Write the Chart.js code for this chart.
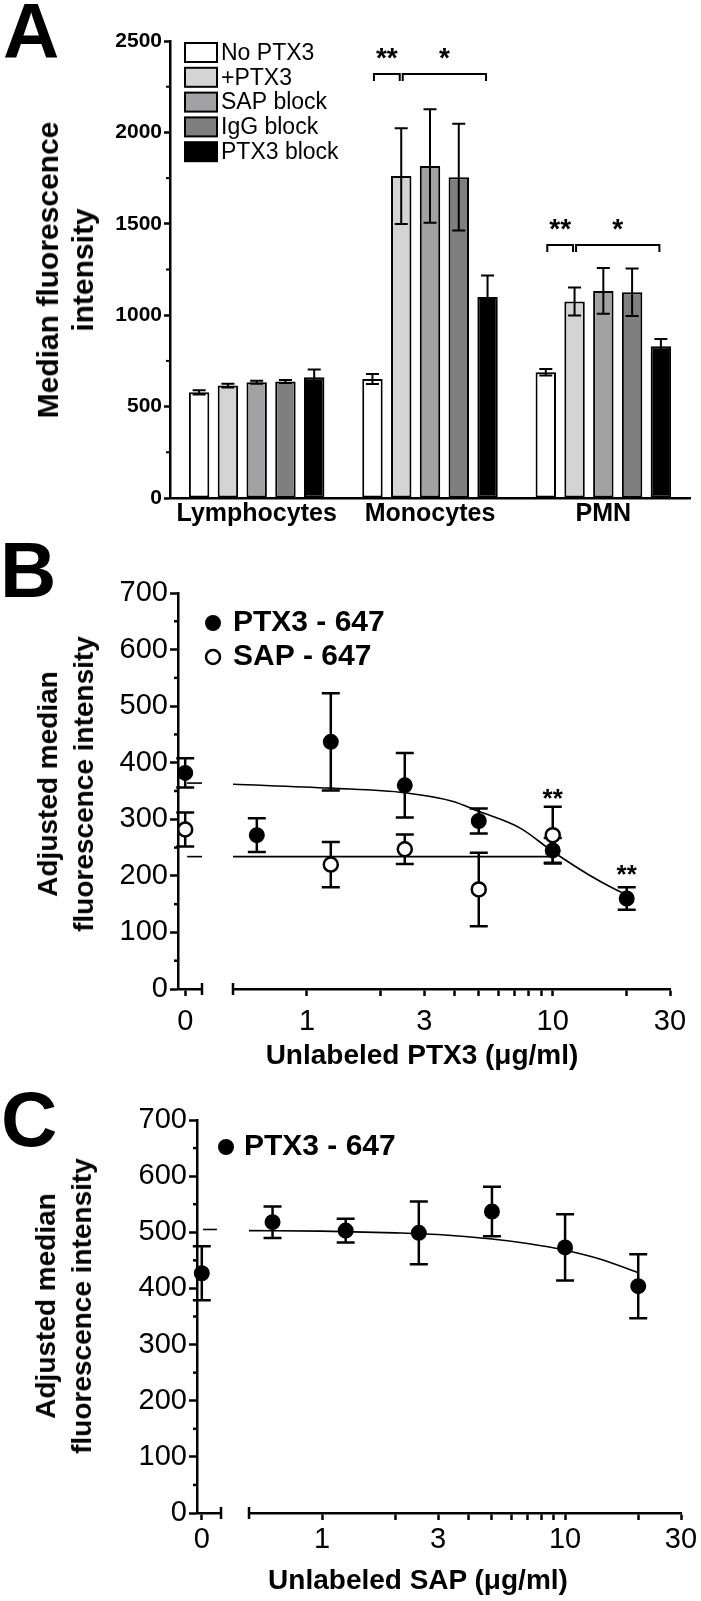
<!DOCTYPE html>
<html lang="en">
<head>
<meta charset="utf-8">
<title>PTX3 binding</title>
<script src="https://cdn.jsdelivr.net/npm/chart.js@4.4.1/dist/chart.umd.min.js"></script>
<style>
  html, body { margin: 0; padding: 0; background: #fff; }
  #page { position: relative; width: 701px; height: 1601px; overflow: hidden; background: #fff;
          font-family: "Liberation Sans", Arial, sans-serif; color: #000; }
  #page canvas { position: absolute; left: 0; }
  .panel { position: absolute; font-weight: bold; font-size: 78px; line-height: 1; }
  .ytitle { position: absolute; font-weight: bold; text-align: center; white-space: nowrap;
            transform: translate(-50%, -50%) rotate(-90deg); }
  .xtitle { position: absolute; font-weight: bold; white-space: nowrap; transform: translate(-50%, -50%); }
</style>
</head>
<body>
<div id="page">
  <canvas id="chartA" width="701" height="540" style="top:0"></canvas>
  <canvas id="chartB" width="701" height="540" style="top:540px"></canvas>
  <canvas id="chartC" width="701" height="521" style="top:1080px"></canvas>

  <div class="panel" style="left:3px;top:-8px">A</div>
  <div class="panel" style="left:0px;top:531px">B</div>
  <div class="panel" style="left:1px;top:1080px">C</div>

  <div class="ytitle" style="left:65px;top:270px;font-size:30px;line-height:35px">Median fluorescence<br>intensity</div>
  <div class="ytitle" style="left:66px;top:784px;font-size:28px;line-height:36px">Adjusted median<br>fluorescence intensity</div>
  <div class="ytitle" style="left:64px;top:1306px;font-size:28px;line-height:36px">Adjusted median<br>fluorescence intensity</div>
  <div class="xtitle" style="left:422px;top:1055px;font-size:28px">Unlabeled PTX3 (μg/ml)</div>
  <div class="xtitle" style="left:418px;top:1580px;font-size:28px">Unlabeled SAP (μg/ml)</div>
</div>

<script>
const FONT = '"Liberation Sans", Arial, sans-serif';
Chart.defaults.font.family = FONT;
Chart.defaults.color = '#000';

// ---- panel A: median fluorescence by cell type ----
const cellTypes = ['Lymphocytes', 'Monocytes', 'PMN'];
const mfiNoPtx3 = [578, 651, 688];
const mfiPlusPtx3 = [615, 1761, 1075];
const mfiSapBlock = [633, 1816, 1133];
const mfiIggBlock = [637, 1755, 1126];
const mfiPtx3Block = [660, 1099, 830];
const semNoPtx3 = [12, 28, 18];
const semPlusPtx3 = [10, 262, 77];
const semSapBlock = [8, 310, 125];
const semIggBlock = [8, 292, 130];
const semPtx3Block = [43, 118, 40];
const mfiMinorTicks = [250, 750, 1250, 1750, 2250];

// significance brackets (category, from bar, to bar, level, label)
const sigCategory = [1, 1, 2, 2];
const sigFrom = [0, 1, 0, 1];
const sigTo = [1, 4, 1, 4];
const sigLevel = [2320, 2320, 1384, 1384];
const sigText = ['**', '*', '**', '*'];

// ---- panel B: competition with unlabeled PTX3 ----
const zeroConc = [0];
const ptx3ConcB = [0.625, 1.25, 2.5, 5, 10, 20];
const ptx3MfiB = [272, 437, 360, 297, 245, 160];
const ptx3SemB = [30, 86, 57, 22, 22, 20];
const ptx3ZeroB = [382];
const ptx3ZeroSemB = [26];
const sapConcB = [1.25, 2.5, 5, 10];
const sapMfiB = [220, 247, 176, 272];
const sapSemB = [40, 26, 65, 50];
const sapZeroB = [282];
const sapZeroSemB = [30];
const ptx3FitXB = [0.5, 1.25, 2.5, 3.9, 5, 7.4, 10, 14, 18, 20];
const ptx3FitYB = [362, 355, 347, 332, 314, 284, 243, 202, 176, 167];
const sapFitXB = [0.5, 10];
const sapFitYB = [234, 234];
const fitZeroXB = [0.08, 0.7];
const ptx3FitZeroB = [364, 364];
const sapFitZeroB = [234, 234];
const starXB = [10, 20];
const starYB = [345, 210];

// ---- panel C: competition with unlabeled SAP ----
const ptx3ConcC = [0.625, 1.25, 2.5, 5, 10, 20];
const ptx3MfiC = [518, 503, 499, 537, 473, 404];
const ptx3SemC = [28, 21, 56, 44, 59, 57];
const ptx3ZeroC = [427];
const ptx3ZeroSemC = [48];
const fitXC = [0.5, 1, 2, 3, 5, 7, 10, 14, 20];
const fitYC = [503, 502, 499, 496, 488, 480, 468, 452, 428];
const fitZeroXC = [0.05, 0.63];
const fitZeroYC = [505, 505];

// shared axis ticks
const logTickValues = [1, 2, 3, 4, 5, 6, 7, 8, 9, 10, 20, 30];
const logTickLabels = [1, 3, 10, 30];
const mfiMinorTicksAdj = [50, 150, 250, 350, 450, 550, 650];

const pts = (xs, ys) => xs.map((x, i) => ({ x: x, y: ys[i] }));

// ---- plugins ----
function drawErrors(chart, o) {
  const ctx = chart.ctx;
  ctx.save();
  ctx.strokeStyle = '#000';
  ctx.lineWidth = o.lineWidth;
  chart.data.datasets.forEach((ds, di) => {
    if (!ds.errors) return;
    const meta = chart.getDatasetMeta(di);
    const ys = chart.scales[meta.yAxisID];
    meta.data.forEach((el, i) => {
      const raw = ds.data[i];
      const v = typeof raw === 'object' ? raw.y : raw;
      const top = ys.getPixelForValue(v + ds.errors[i]);
      const bot = ys.getPixelForValue(v - ds.errors[i]);
      ctx.beginPath();
      ctx.moveTo(el.x, top); ctx.lineTo(el.x, bot);
      ctx.moveTo(el.x - o.cap, top); ctx.lineTo(el.x + o.cap, top);
      ctx.moveTo(el.x - o.cap, bot); ctx.lineTo(el.x + o.cap, bot);
      ctx.stroke();
    });
  });
  ctx.restore();
}

const errorBars = {
  id: 'errorBars',
  beforeDatasetsDraw(chart, args, o) { if (o.under) drawErrors(chart, o); },
  afterDatasetsDraw(chart, args, o) { if (!o.under) drawErrors(chart, o); }
};

const minorTicks = {
  id: 'minorTicks',
  afterDraw(chart, args, o) {
    const s = chart.scales.y, ctx = chart.ctx;
    ctx.save();
    ctx.strokeStyle = '#000';
    ctx.lineWidth = o.width;
    o.values.forEach(v => {
      const py = s.getPixelForValue(v);
      ctx.beginPath();
      ctx.moveTo(s.right - o.length, py);
      ctx.lineTo(s.right, py);
      ctx.stroke();
    });
    ctx.restore();
  }
};

const boxLegend = {
  id: 'boxLegend',
  afterDraw(chart, args, o) {
    const ctx = chart.ctx;
    ctx.save();
    chart.data.datasets.forEach((ds, i) => {
      const cy = o.y + i * o.gap;
      ctx.fillStyle = ds.backgroundColor;
      ctx.fillRect(o.x, cy - o.h / 2, o.w, o.h);
      ctx.lineWidth = 2;
      ctx.strokeStyle = '#000';
      ctx.strokeRect(o.x, cy - o.h / 2, o.w, o.h);
      ctx.fillStyle = '#000';
      ctx.font = o.font;
      ctx.textAlign = 'left';
      ctx.textBaseline = 'middle';
      ctx.fillText(ds.label, o.textX, cy + 1);
    });
    ctx.restore();
  }
};

const sigBrackets = {
  id: 'sigBrackets',
  afterDatasetsDraw(chart, args, o) {
    const ctx = chart.ctx, ys = chart.scales.y;
    ctx.save();
    ctx.strokeStyle = '#000';
    ctx.fillStyle = '#000';
    ctx.lineWidth = 2;
    ctx.font = o.font;
    ctx.textAlign = 'center';
    ctx.textBaseline = 'middle';
    sigCategory.forEach((c, i) => {
      const x1 = chart.getDatasetMeta(sigFrom[i]).data[c].x + 1.5;
      const x2 = chart.getDatasetMeta(sigTo[i]).data[c].x - 1.5;
      const py = ys.getPixelForValue(sigLevel[i]);
      ctx.beginPath();
      ctx.moveTo(x1, py + o.drop); ctx.lineTo(x1, py);
      ctx.lineTo(x2, py); ctx.lineTo(x2, py + o.drop);
      ctx.stroke();
      ctx.fillText(sigText[i], (x1 + x2) / 2, py - o.starGap + o.starShift);
    });
    ctx.restore();
  }
};

const axisBreak = {
  id: 'axisBreak',
  afterDraw(chart, args, o) {
    const ctx = chart.ctx, yb = chart.scales.x0.top;
    ctx.save();
    ctx.strokeStyle = '#000';
    ctx.lineWidth = 2.5;
    [chart.scales.x0.right, chart.scales.xl.left].forEach(px => {
      ctx.beginPath();
      ctx.moveTo(px, yb - o.len);
      ctx.lineTo(px, yb + o.len);
      ctx.stroke();
    });
    ctx.restore();
  }
};

const markerLegend = {
  id: 'markerLegend',
  afterDraw(chart, args, o) {
    const ctx = chart.ctx;
    ctx.save();
    chart.data.datasets.filter(ds => ds.inLegend).forEach((ds, k) => {
      const cy = o.y + k * o.gap;
      ctx.beginPath();
      ctx.arc(o.x, cy, ds.pointRadius, 0, Math.PI * 2);
      ctx.fillStyle = ds.backgroundColor;
      ctx.fill();
      ctx.lineWidth = ds.borderWidth;
      ctx.strokeStyle = '#000';
      ctx.stroke();
      ctx.fillStyle = '#000';
      ctx.font = o.font;
      ctx.textAlign = 'left';
      ctx.textBaseline = 'middle';
      ctx.fillText(ds.label, o.textX, cy);
    });
    ctx.restore();
  }
};

const starMarks = {
  id: 'starMarks',
  afterDatasetsDraw(chart, args, o) {
    if (!o.x) return;
    const ctx = chart.ctx;
    ctx.save();
    ctx.fillStyle = '#000';
    ctx.font = o.font;
    ctx.textAlign = 'center';
    ctx.textBaseline = 'middle';
    o.x.forEach((xv, i) => {
      ctx.fillText('**', chart.scales.xl.getPixelForValue(xv), chart.scales.y.getPixelForValue(o.y[i]) + o.shift);
    });
    ctx.restore();
  }
};

// ---- panel A chart ----
new Chart(document.getElementById('chartA'), {
  type: 'bar',
  data: {
    labels: cellTypes,
    datasets: [
      { label: 'No PTX3', data: mfiNoPtx3, errors: semNoPtx3, backgroundColor: '#ffffff' },
      { label: '+PTX3', data: mfiPlusPtx3, errors: semPlusPtx3, backgroundColor: '#d4d4d4' },
      { label: 'SAP block', data: mfiSapBlock, errors: semSapBlock, backgroundColor: '#a2a2a5' },
      { label: 'IgG block', data: mfiIggBlock, errors: semIggBlock, backgroundColor: '#7f7f7f' },
      { label: 'PTX3 block', data: mfiPtx3Block, errors: semPtx3Block, backgroundColor: '#000000' }
    ]
  },
  options: {
    responsive: false,
    animation: false,
    events: [],
    layout: { padding: { top: 41, right: 11, bottom: 0, left: 0 } },
    datasets: {
      bar: { categoryPercentage: 0.83, barPercentage: 0.71, borderColor: '#000', borderWidth: 2, borderSkipped: false }
    },
    plugins: {
      legend: { display: false },
      tooltip: { enabled: false },
      errorBars: { under: false, lineWidth: 2, cap: 6.5 },
      minorTicks: { values: mfiMinorTicks, length: 4, width: 2 },
      boxLegend: { x: 185, y: 52.5, gap: 24.8, w: 32, h: 19, textX: 221, font: '23px ' + FONT },
      sigBrackets: { drop: 7, starGap: 21, starShift: 6, font: 'bold 28px ' + FONT }
    },
    scales: {
      x: {
        grid: { display: false, drawTicks: false },
        border: { color: '#000', width: 2.5 },
        ticks: { font: { size: 25, weight: 'bold' }, padding: 1 },
        afterFit: s => { s.height = 42; }
      },
      y: {
        min: 0, max: 2500,
        ticks: { stepSize: 500, font: { size: 21, weight: 'bold' }, padding: 2, callback: v => String(v) },
        grid: { drawOnChartArea: false, tickLength: 6, tickWidth: 2.5, tickColor: '#000' },
        border: { color: '#000', width: 2.5 },
        afterFit: s => { s.width = 170; }
      }
    }
  },
  plugins: [errorBars, minorTicks, boxLegend, sigBrackets]
});

// ---- panels B and C: split concentration axis (0 | log) ----
function doseChart(id, o) {
  const tickStyle = { drawOnChartArea: false, tickLength: 7, tickWidth: 2.5, tickColor: '#000' };
  const fixH = s => { s.height = o.xh; };
  return new Chart(document.getElementById(id), {
    type: 'scatter',
    data: { datasets: o.datasets },
    options: {
      responsive: false,
      animation: false,
      events: [],
      layout: { padding: { top: o.top, right: o.right, bottom: 0, left: 0 } },
      plugins: {
        legend: { display: false },
        tooltip: { enabled: false },
        errorBars: { under: true, lineWidth: 2.5, cap: 9 },
        minorTicks: { values: mfiMinorTicksAdj, length: 4, width: 2.5 },
        axisBreak: { len: 6 },
        markerLegend: o.legend,
        starMarks: o.stars || {}
      },
      scales: {
        y: {
          min: 0, max: 700,
          ticks: { stepSize: 100, font: { size: 29 }, padding: 2 },
          grid: { drawOnChartArea: false, tickLength: 8, tickWidth: 2.5, tickColor: '#000' },
          border: { color: '#000', width: 2.5 },
          afterFit: s => { s.width = o.left; }
        },
        x0: {
          type: 'linear', axis: 'x', position: 'bottom', stack: 'conc', stackWeight: o.w0,
          min: o.x0min, max: o.x0max,
          afterBuildTicks: s => { s.ticks = zeroConc.map(v => ({ value: v })); },
          ticks: { font: { size: 29 }, padding: o.tickPad, maxRotation: 0 },
          grid: tickStyle,
          border: { color: '#000', width: 2.5 },
          afterFit: fixH
        },
        xgap: {
          type: 'linear', axis: 'x', position: 'bottom', stack: 'conc', stackWeight: o.wGap,
          grid: { display: false, drawTicks: false },
          border: { display: false },
          ticks: { display: false },
          afterFit: fixH
        },
        xl: {
          type: 'logarithmic', axis: 'x', position: 'bottom', stack: 'conc', stackWeight: o.wLog,
          min: 0.5, max: 30,
          afterBuildTicks: s => { s.ticks = logTickValues.map(v => ({ value: v })); },
          ticks: {
            autoSkip: false, maxRotation: 0, font: { size: 29 }, padding: o.tickPad,
            callback: v => logTickLabels.includes(v) ? String(v) : ''
          },
          grid: tickStyle,
          border: { color: '#000', width: 2.5 },
          afterFit: fixH
        }
      }
    },
    plugins: [errorBars, minorTicks, axisBreak, markerLegend, starMarks]
  });
}

const filled = { backgroundColor: '#000', borderColor: '#000', borderWidth: 2, pointRadius: 7, clip: false };
const open = { backgroundColor: '#fff', borderColor: '#000', borderWidth: 2.5, pointRadius: 7, clip: false };
const fitLine = { showLine: true, pointRadius: 0, borderColor: '#000', borderWidth: 1.6, cubicInterpolationMode: 'monotone', clip: false };

doseChart('chartB', {
  top: 53, right: 31, left: 178, xh: 91, tickPad: 9,
  w0: 24, wGap: 31, wLog: 437, x0min: -0.3, x0max: 0.7,
  legend: { x: 213, y: 83, gap: 34, textX: 233, font: 'bold 30px ' + FONT },
  stars: { x: starXB, y: starYB, shift: 6, font: 'bold 26px ' + FONT },
  datasets: [
    Object.assign({ label: 'PTX3 - 647', inLegend: true, xAxisID: 'xl', data: pts(ptx3ConcB, ptx3MfiB), errors: ptx3SemB }, filled),
    Object.assign({ label: 'SAP - 647', inLegend: true, xAxisID: 'xl', data: pts(sapConcB, sapMfiB), errors: sapSemB }, open),
    Object.assign({ label: 'PTX3 - 647 (0)', xAxisID: 'x0', data: pts(zeroConc, ptx3ZeroB), errors: ptx3ZeroSemB }, filled),
    Object.assign({ label: 'SAP - 647 (0)', xAxisID: 'x0', data: pts(zeroConc, sapZeroB), errors: sapZeroSemB }, open),
    Object.assign({ label: 'PTX3 fit', xAxisID: 'xl', data: pts(ptx3FitXB, ptx3FitYB) }, fitLine),
    Object.assign({ label: 'SAP fit', xAxisID: 'xl', data: pts(sapFitXB, sapFitYB) }, fitLine),
    Object.assign({ label: 'PTX3 fit (0)', xAxisID: 'x0', data: pts(fitZeroXB, ptx3FitZeroB) }, fitLine),
    Object.assign({ label: 'SAP fit (0)', xAxisID: 'x0', data: pts(fitZeroXB, sapFitZeroB) }, fitLine)
  ]
});

doseChart('chartC', {
  top: 40, right: 20, left: 197, xh: 88, tickPad: 3,
  w0: 24, wGap: 28, wLog: 432, x0min: -0.2, x0max: 0.8,
  legend: { x: 226, y: 67, gap: 34, textX: 244, font: 'bold 30px ' + FONT },
  datasets: [
    Object.assign({ label: 'PTX3 - 647', inLegend: true, xAxisID: 'xl', data: pts(ptx3ConcC, ptx3MfiC), errors: ptx3SemC }, filled),
    Object.assign({ label: 'PTX3 - 647 (0)', xAxisID: 'x0', data: pts(zeroConc, ptx3ZeroC), errors: ptx3ZeroSemC }, filled),
    Object.assign({ label: 'PTX3 fit', xAxisID: 'xl', data: pts(fitXC, fitYC) }, fitLine),
    Object.assign({ label: 'PTX3 fit (0)', xAxisID: 'x0', data: pts(fitZeroXC, fitZeroYC) }, fitLine)
  ]
});
</script>
</body>
</html>
